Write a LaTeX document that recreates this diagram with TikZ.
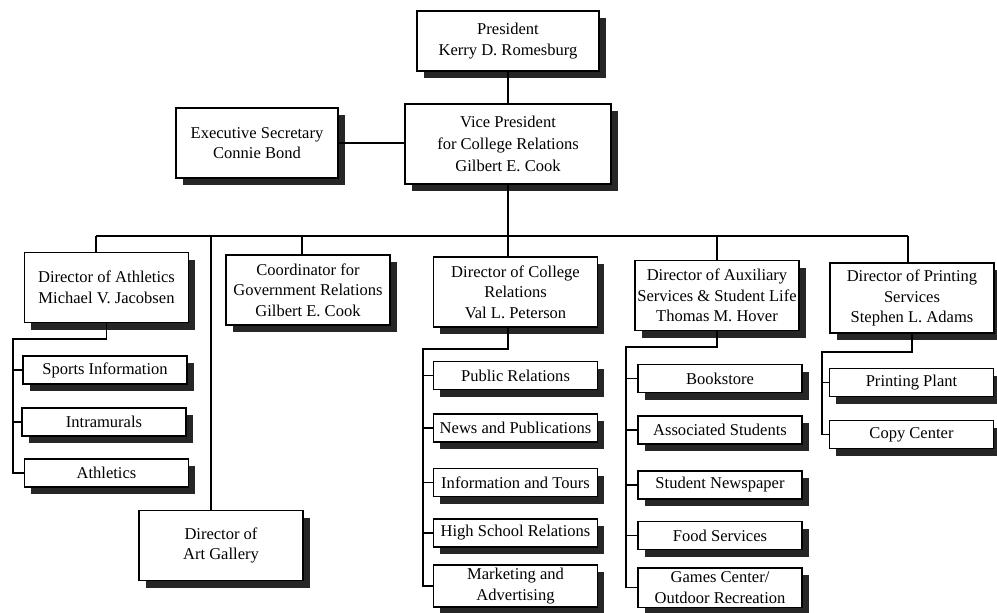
\documentclass[tikz,border=0pt]{standalone}
\usepackage{fontspec}
\setmainfont{Liberation Serif}
\usetikzlibrary{shadows}

\tikzset{every picture/.style={line width=1pt}}
\tikzset{
  orgbox/.style={draw, fill=white, align=center, inner sep=1pt,
    font=\fontsize{12.4}{15.5}\selectfont,
    drop shadow={shadow xshift=5pt, shadow yshift=-5.5pt, fill=black!85, opacity=1}},
  dirbox/.style={orgbox, minimum width=123pt, minimum height=52.5pt},
  subbox/.style={orgbox, minimum width=123pt, minimum height=21pt}
}

\begin{document}
\begin{tikzpicture}[x=0.75pt,y=0.75pt,yscale=-1,xscale=1]
\useasboundingbox (0,0) rectangle (997,613);

%Shape: Box -- top
\node[orgbox, minimum width=136.5pt, minimum height=45pt] (pres) at (508,41) {President\\Kerry D. Romesburg};
%Shape: Box
\node[orgbox, minimum width=154.5pt, minimum height=60pt, font=\fontsize{12.4}{16.5}\selectfont] (vp) at (508,144) {Vice President\\for College Relations\\Gilbert E. Cook};
%Shape: Box
\node[orgbox, minimum width=121.5pt, minimum height=52.5pt] (sec) at (257,143) {Executive Secretary\\Connie Bond};

%Shape: Box -- directors
\node[dirbox] (ath) at (106.5,287.5) {Director of Athletics\\Michael V. Jacobsen};
\node[dirbox] (gov) at (308,290) {Coordinator for\\Government Relations\\Gilbert E. Cook};
\node[dirbox] (cr) at (515.5,292) {Director of College\\Relations\\Val L. Peterson};
\node[dirbox] (aux) at (717,295.5) {Director of Auxiliary\\Services \& Student Life\\Thomas M. Hover};
\node[dirbox] (prn) at (912,298) {Director of Printing\\Services\\Stephen L. Adams};
\node[dirbox] (art) at (221,545.5) {Director of\\Art Gallery};

%Shape: Box -- athletics
\node[subbox] (spo) at (105,370) {Sports Information};
\node[subbox] (int) at (104,422) {Intramurals};
\node[subbox] (atl) at (106.5,473) {Athletics};

%Shape: Box -- college relations
\node[subbox] (pr) at (515.5,375.5) {Public Relations};
\node[subbox] (npub) at (515.5,428) {News and Publications};
\node[subbox] (info) at (515.5,482.5) {Information and Tours};
\node[subbox] (hsr) at (515.5,533) {High School Relations};
\node[subbox, minimum height=31.5pt] (mkt) at (515.5,586) {Marketing and\\Advertising};

%Shape: Box -- auxiliary services
\node[subbox] (book) at (720,378.5) {Bookstore};
\node[subbox] (asso) at (720,430) {Associated Students};
\node[subbox] (snews) at (720,485) {Student Newspaper};
\node[subbox] (food) at (720,535.5) {Food Services};
\node[subbox, minimum height=29.5pt] (games) at (720,587.5) {Games Center/\\Outdoor Recreation};

%Shape: Box -- printing
\node[subbox] (plant) at (911.5,382.5) {Printing Plant};
\node[subbox] (copy) at (911.5,434.5) {Copy Center};

% bus and trunk points
\coordinate (bAth) at (96,236);
\coordinate (bArt) at (211,236);
\coordinate (bGov) at (302,236);
\coordinate (bAux) at (717,236);
\coordinate (bPrn) at (908,236);
\coordinate (tAth) at (13,339);
\coordinate (tCR) at (423,349);
\coordinate (tAux) at (626,347);
\coordinate (tPrn) at (822,352);

%Straight Lines
\draw (pres.south) -- (vp.north);
\draw (sec.east) -- (sec.east -| vp.west);
\draw (vp.south) -- (vp.south |- cr.north);
%Straight Lines -- bus
\draw (bAth) -- (bPrn);
\draw (bAth) -- (bAth |- ath.north);
\draw (bArt) -- (bArt |- art.north);
\draw (bGov) -- (bGov |- gov.north);
\draw (bAux) -- (bAux |- aux.north);
\draw (bPrn) -- (bPrn |- prn.north);

%Straight Lines -- athletics
\draw (ath.south) |- (tAth) |- (atl.west);
\draw (tAth |- spo.west) -- (spo.west);
\draw (tAth |- int.west) -- (int.west);

%Straight Lines -- college relations
\draw (vp.south |- cr.south) |- (tCR) |- (mkt.west);
\draw (tCR |- pr.west) -- (pr.west);
\draw (tCR |- npub.west) -- (npub.west);
\draw (tCR |- info.west) -- (info.west);
\draw (tCR |- hsr.west) -- (hsr.west);

%Straight Lines -- auxiliary services
\draw (aux.south) |- (tAux) |- (games.west);
\draw (tAux |- book.west) -- (book.west);
\draw (tAux |- asso.west) -- (asso.west);
\draw (tAux |- snews.west) -- (snews.west);
\draw (tAux |- food.west) -- (food.west);

%Straight Lines -- printing
\draw (prn.south) |- (tPrn) |- (copy.west);
\draw (tPrn |- plant.west) -- (plant.west);

\end{tikzpicture}
\end{document}
